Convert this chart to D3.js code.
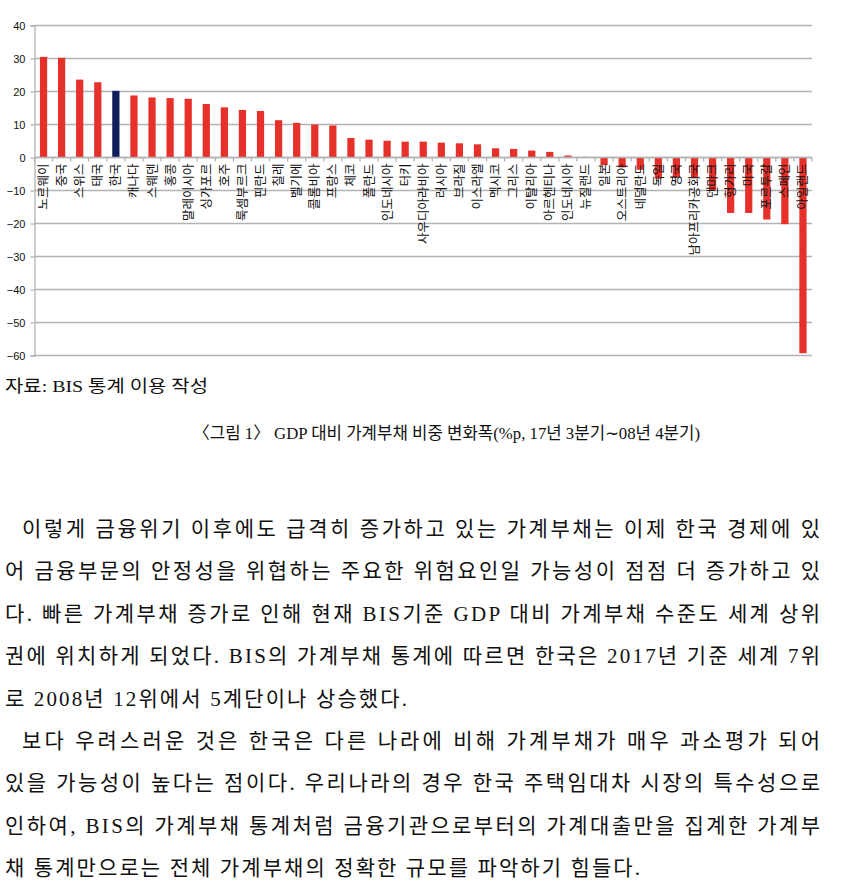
<!DOCTYPE html>
<html>
<head>
<meta charset="utf-8">
<script src="https://cdn.jsdelivr.net/npm/d3@7"></script>
<style>
body { margin: 0; background: #fff; }
svg { display: block; }
</style>
</head>
<body>
<svg id="chart"></svg>
<script>
const width = 850;
const height = 881;

// 국가별 GDP 대비 가계부채 비중 변화폭 (%p)
const countries = ["노르웨이", "중국", "스위스", "태국", "한국", "캐나다", "스웨덴", "홍콩", "말레이시아", "싱가포르",
  "호주", "룩셈부르크", "핀란드", "칠레", "벨기에", "콜롬비아", "프랑스", "체코", "폴란드", "인도네시아",
  "터키", "사우디아라비아", "러시아", "브라질", "이스라엘", "멕시코", "그리스", "이탈리아", "아르헨티나", "인도네시아",
  "뉴질랜드", "일본", "오스트리아", "네덜란드", "독일", "영국", "남아프리카공화국", "덴마크", "헝가리", "미국",
  "포르투갈", "스페인", "아일랜드"];
const values = [30.5, 30.2, 23.6, 22.8, 20.2, 18.8, 18.2, 18.0, 17.8, 16.2,
  15.2, 14.4, 14.1, 11.3, 10.5, 10.0, 9.7, 5.9, 5.4, 5.1,
  4.8, 4.8, 4.5, 4.3, 4.0, 2.8, 2.6, 2.1, 1.7, 0.6,
  0.2, -2.3, -3.0, -3.7, -6.4, -6.0, -6.1, -10.0, -16.8, -16.8,
  -18.8, -20.2, -59.3];
const yTicks = [40, 30, 20, 10, 0, -10, -20, -30, -40, -50, -60];

const sourceText = "자료: BIS 통계 이용 작성";
const captionText = "〈그림 1〉 GDP 대비 가계부채 비중 변화폭(%p, 17년 3분기∼08년 4분기)";
// 본문: [텍스트, 들여쓰기, 줄 끝 x]
const bodyLines = [
  ["이렇게 금융위기 이후에도 급격히 증가하고 있는 가계부채는 이제 한국 경제에 있", 1, 820],
  ["어 금융부문의 안정성을 위협하는 주요한 위험요인일 가능성이 점점 더 증가하고 있", 0, 820],
  ["다. 빠른 가계부채 증가로 인해 현재 BIS기준 GDP 대비 가계부채 수준도 세계 상위", 0, 820],
  ["권에 위치하게 되었다. BIS의 가계부채 통계에 따르면 한국은 2017년 기준 세계 7위", 0, 820],
  ["로 2008년 12위에서 5계단이나 상승했다.", 0, 407],
  ["보다 우려스러운 것은 한국은 다른 나라에 비해 가계부채가 매우 과소평가 되어", 1, 820],
  ["있을 가능성이 높다는 점이다. 우리나라의 경우 한국 주택임대차 시장의 특수성으로", 0, 820],
  ["인하여, BIS의 가계부채 통계처럼 금융기관으로부터의 가계대출만을 집계한 가계부", 0, 820],
  ["채 통계만으로는 전체 가계부채의 정확한 규모를 파악하기 힘들다.", 0, 640]
];

const plot = { left: 34.5, right: 812, top: 25.5, bottom: 355.5 };

let svg = d3.select("#chart")
  .attr("width", width)
  .attr("height", height);

// 축 스케일
let scaleX = d3.scaleBand()
  .domain(d3.range(countries.length))
  .range([plot.left, plot.right])
  .paddingInner(0.6)
  .paddingOuter(0.3);
let scaleY = d3.scaleLinear()
  .domain([-60, 40])
  .range([plot.bottom, plot.top]);

// 그리드
svg.append("g")
  .selectAll("line")
  .data(yTicks)
  .enter()
  .append("line")
  .attr("x1", plot.left)
  .attr("x2", plot.right)
  .attr("y1", d => scaleY(d))
  .attr("y2", d => scaleY(d))
  .style("stroke", "#b3b3b3")
  .style("stroke-width", 1.3);

// 세로축
let axisY = d3.axisLeft(scaleY).tickValues(yTicks).tickSize(4).tickPadding(5);
let gy = svg.append("g")
  .attr("transform", `translate(${plot.left}, 0)`)
  .call(axisY);
gy.select(".domain").style("stroke", "#b3b3b3").style("stroke-width", 1.3);
gy.selectAll(".tick line").style("stroke", "#b3b3b3").style("stroke-width", 1.3);
gy.selectAll("text")
  .style("font-family", "'Liberation Sans', Arial, sans-serif")
  .style("font-size", "11px")
  .style("fill", "#111");

// 막대
svg.append("g")
  .selectAll("rect")
  .data(values)
  .enter()
  .append("rect")
  .attr("x", (d, i) => scaleX(i))
  .attr("width", scaleX.bandwidth())
  .attr("y", d => scaleY(Math.max(0, d)))
  .attr("height", d => Math.abs(scaleY(d) - scaleY(0)))
  .style("fill", (d, i) => countries[i] === "한국" ? "#0e1f5b" : "#e5312a");

// 가로축(0 기준선) 및 눈금
const step = scaleX.step();
const tickX = i => scaleX(0) + scaleX.bandwidth() / 2 - step / 2 + i * step;
svg.append("line")
  .attr("x1", plot.left)
  .attr("x2", plot.right)
  .attr("y1", scaleY(0))
  .attr("y2", scaleY(0))
  .style("stroke", "#b3b3b3")
  .style("stroke-width", 1.3);
svg.append("g")
  .selectAll("line")
  .data(d3.range(countries.length + 1))
  .enter()
  .append("line")
  .attr("x1", tickX)
  .attr("x2", tickX)
  .attr("y1", scaleY(0))
  .attr("y2", scaleY(0) + 4)
  .style("stroke", "#b3b3b3")
  .style("stroke-width", 1.3);

// 국가명 (세로)
svg.append("g")
  .selectAll("text")
  .data(countries)
  .enter()
  .append("text")
  .attr("transform", (d, i) => `translate(${scaleX(i) + scaleX.bandwidth() / 2}, ${scaleY(0) + 6}) rotate(-90)`)
  .attr("dy", "0.36em")
  .style("text-anchor", "end")
  .style("font-family", "'Noto Sans CJK KR', sans-serif")
  .style("font-size", "12.5px")
  .style("fill", "#111")
  .text(d => d);

// 자료 출처와 그림 제목
const serif = "'Liberation Serif', 'Noto Sans CJK KR', serif";
svg.append("text")
  .attr("x", 5)
  .attr("y", 392)
  .attr("textLength", 203)
  .attr("lengthAdjust", "spacingAndGlyphs")
  .style("font-family", serif)
  .style("font-size", "17px")
  .style("fill", "#111")
  .text(sourceText);
svg.append("text")
  .attr("x", 193)
  .attr("y", 439)
  .attr("textLength", 507)
  .attr("lengthAdjust", "spacingAndGlyphs")
  .style("font-family", serif)
  .style("font-size", "17px")
  .style("fill", "#111")
  .text(captionText);

// 본문
svg.append("g")
  .selectAll("text")
  .data(bodyLines)
  .enter()
  .append("text")
  .attr("x", d => d[1] ? 22 : 5)
  .attr("y", (d, i) => 536 + i * 42.4)
  .attr("textLength", d => d[2] - (d[1] ? 22 : 5))
  .attr("lengthAdjust", "spacing")
  .style("font-family", serif)
  .style("font-size", "21px")
  .style("fill", "#111")
  .text(d => d[0]);
</script>
</body>
</html>
